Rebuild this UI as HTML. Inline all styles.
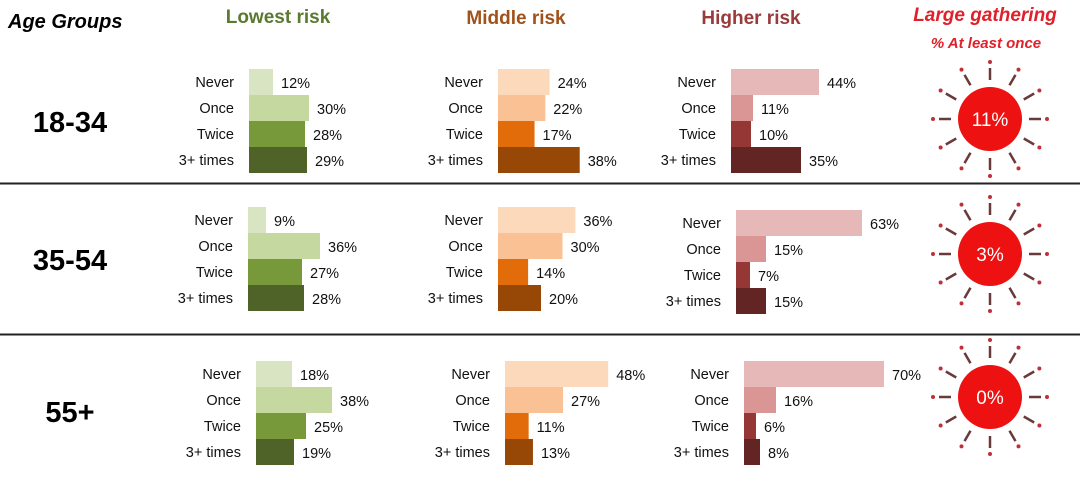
<!DOCTYPE html>
<html><head><meta charset="utf-8">
<style>
html,body{margin:0;padding:0;background:#fff;}
body{width:1080px;height:482px;overflow:hidden;font-family:"Liberation Sans",sans-serif;}
text{font-family:"Liberation Sans",sans-serif;}
</style></head>
<body>
<svg id="chart" width="1080" height="482" xmlns="http://www.w3.org/2000/svg">
<text x="8" y="28" font-size="20" font-weight="bold" font-style="italic" fill="#000">Age Groups</text>
<text x="278" y="23" font-size="19" font-weight="bold" fill="#5a7a2e" text-anchor="middle">Lowest risk</text>
<text x="516" y="24" font-size="19" font-weight="bold" fill="#a0521a" text-anchor="middle">Middle risk</text>
<text x="751" y="24" font-size="19" font-weight="bold" fill="#9a3a3a" text-anchor="middle">Higher risk</text>
<text x="985" y="21" font-size="19" font-weight="bold" font-style="italic" fill="#e0202a" text-anchor="middle">Large gathering</text>
<text x="986" y="48" font-size="15" font-weight="bold" font-style="italic" fill="#e0202a" text-anchor="middle">% At least once</text>
<line x1="0" y1="183.5" x2="1080" y2="183.5" stroke="#222" stroke-width="2"/>
<line x1="0" y1="334.5" x2="1080" y2="334.5" stroke="#222" stroke-width="2"/>
<g id="g"></g>
</svg>
<script>
const ageGroups = ["18-34","35-54","55+"];
const categories = ["Never","Once","Twice","3+ times"];
const lowest = [[12,30,28,29],[9,36,27,28],[18,38,25,19]];
const middle = [[24,22,17,38],[36,30,14,20],[48,27,11,13]];
const higher = [[44,11,10,35],[63,15,7,15],[70,16,6,8]];
const gathering = [11,3,0];

const NS="http://www.w3.org/2000/svg";
const g=document.getElementById('g');
function el(t,a,txt){const e=document.createElementNS(NS,t);for(const k in a)e.setAttribute(k,a[k]);if(txt!==undefined)e.textContent=txt;g.appendChild(e);return e;}
const rowTop=[69,207,361];
const ageY=[132,270,422];
const panels=[
 {name:"lowest",data:lowest,x0:[249,248,256],scale:2.0,colors:["#d8e4c2","#c4d89f","#77993a","#4f6228"]},
 {name:"middle",data:middle,x0:[498,498,505],scale:2.15,colors:["#fcd9bb","#f9c194","#e36c0a","#974806"]},
 {name:"higher",data:higher,x0:[731,736,744],scale:2.0,colors:["#e6b9b8","#d99694","#953735","#632523"]}
];
const barH=26;
function xScale(p,r,v){return v*p.scale;}
ageGroups.forEach((ag,r)=>{
  const t=el('text',{x:70,y:ageY[r],'font-size':29,'font-weight':'bold','text-anchor':'middle',fill:'#000'},ag);
  
  
  panels.forEach(p=>{
    const top=rowTop[r]+(p.name==="higher"&&r===1?3:0);
    categories.forEach((c,i)=>{
      const v=p.data[r][i];
      const y=top+i*barH;
      const w=xScale(p,r,v);
      const b=el('rect',{x:p.x0[r],y:y,width:w,height:barH,fill:p.colors[i]});
      
      
      const l=el('text',{x:p.x0[r]-15,y:y+barH/2+5,'font-size':14.5,'text-anchor':'end',fill:'#111'},c);
      
      
      const vl=el('text',{x:p.x0[r]+w+8,y:y+barH/2+6,'font-size':14.5,fill:'#111'},v+'%');
      
      
    });
  });
  const cx=990, cy=[119,254,397][r];
  for(let k=0;k<12;k++){
    const a=k*Math.PI/6;
    const ray=el('line',{x1:cx+39*Math.sin(a),y1:cy-39*Math.cos(a),x2:cx+51*Math.sin(a),y2:cy-51*Math.cos(a),stroke:'#6a3a3a','stroke-width':2.5});
    
    
    const d=el('circle',{cx:cx+57*Math.sin(a),cy:cy-57*Math.cos(a),r:2,fill:'#c0303a'});
    
    
  }
  const s=el('circle',{cx:cx,cy:cy,r:32,fill:'#ee1111'});
  
  
  const st=el('text',{x:cx,y:cy+7,'font-size':19,'text-anchor':'middle',fill:'#fff'},gathering[r]+'%');
  
  
});
</script>
</body></html>
